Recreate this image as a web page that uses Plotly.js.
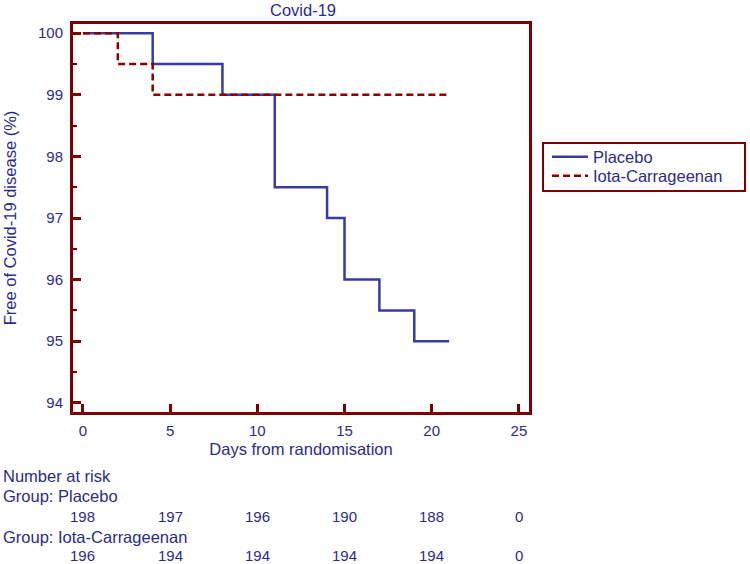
<!DOCTYPE html>
<html>
<head>
<meta charset="utf-8">
<script src="https://cdn.plot.ly/plotly-3.0.1.min.js"></script>
<style>html,body{margin:0;padding:0;background:#fff;}</style>
</head>
<body>
<div id="chart" style="width:750px;height:564px;"></div>
<script>
// Kaplan-Meier steps
const placeboDays = [0, 4, 8, 11, 14, 15, 17, 19, 21];
const placeboFree = [100, 99.5, 99, 97.5, 97, 96, 95.5, 95, 95];
const iotaDays = [0, 2, 4, 21];
const iotaFree = [100, 99.5, 99, 99];

// Number at risk table
const riskTimes = [0, 5, 10, 15, 20, 25];
const riskPlacebo = [198, 197, 196, 190, 188, 0];
const riskIota = [196, 194, 194, 194, 194, 0];
const groupNames = ['Placebo', 'Iota-Carrageenan'];

const textColor = '#2b2b8e';
const maroon = '#7d0000';
const blue = '#3a3aa4';
const fontFam = 'Liberation Sans, Arial, sans-serif';
const wordFont = {family: fontFam, size: 16.5, color: textColor};
const numFont = {family: fontFam, size: 15, color: textColor};

const plotH = 564 - 24 - 152;
const plotW = 456;
function py(pix) { return (564 - 152 - pix) / plotH; }
function px(pix) { return (pix - 73) / plotW; }

const traces = [
  {x: placeboDays, y: placeboFree, name: groupNames[0], type: 'scatter', mode: 'lines',
   legend: 'legend', line: {shape: 'hv', color: blue, width: 2.5}},
  {x: iotaDays, y: iotaFree, name: groupNames[1], type: 'scatter', mode: 'lines',
   legend: 'legend2', line: {shape: 'hv', color: '#8b0000', width: 2.5, dash: '7px,4px'}}
];

const annotations = [];
function addText(text, x, xref, y, xanchor, font) {
  annotations.push({text: text, x: x, xref: xref, y: y, yref: 'paper', xanchor: xanchor,
    yanchor: 'middle', showarrow: false, font: font});
}
addText('Number at risk', px(1), 'paper', py(476), 'left', wordFont);
addText('Group: ' + groupNames[0], px(1), 'paper', py(496), 'left', wordFont);
riskTimes.forEach((t, i) => addText(String(riskPlacebo[i]), t, 'x', py(516), 'center', numFont));
addText('Group: ' + groupNames[1], px(1), 'paper', py(537), 'left', wordFont);
riskTimes.forEach((t, i) => addText(String(riskIota[i]), t, 'x', py(555), 'center', numFont));

const layout = {
  width: 750, height: 564,
  margin: {l: 73, r: 221, t: 24, b: 152},
  paper_bgcolor: '#fff', plot_bgcolor: '#fff',
  font: {family: fontFam, size: 15, color: textColor},
  title: {text: 'Covid-19', x: px(303), xref: 'paper', xanchor: 'center',
          y: 1 - 10 / 564, yref: 'container', yanchor: 'middle', font: wordFont},
  xaxis: {
    range: [-0.57, 25.58], tickvals: riskTimes, ticks: 'inside', ticklen: 8, tickwidth: 3,
    tickcolor: maroon, showline: true, linecolor: maroon, linewidth: 3, mirror: true,
    showgrid: false, zeroline: false, ticklabelstandoff: 3, tickfont: numFont,
    title: {text: 'Days from randomisation', standoff: 6, font: wordFont}
  },
  yaxis: {
    range: [93.85, 100.15], tickvals: [94, 95, 96, 97, 98, 99, 100], ticks: 'inside', ticklen: 8,
    tickwidth: 3, tickcolor: maroon, showline: true, linecolor: maroon, linewidth: 3, mirror: true,
    showgrid: false, zeroline: false, ticklabelstandoff: 4,
    minor: {dtick: 0.5, tick0: 94, ticks: 'inside', ticklen: 4, tickwidth: 2, tickcolor: maroon, showgrid: false},
    tickfont: numFont,
    title: {text: 'Free of Covid-19 disease (%)', standoff: 18, font: wordFont}
  },
  showlegend: true,
  legend: {x: px(547), xanchor: 'left', y: py(157), yanchor: 'middle', itemwidth: 36,
           borderwidth: 0, bgcolor: 'rgba(0,0,0,0)', font: wordFont},
  legend2: {x: px(547), xanchor: 'left', y: py(176), yanchor: 'middle', itemwidth: 36,
           borderwidth: 0, bgcolor: 'rgba(0,0,0,0)', font: wordFont},
  shapes: [{type: 'rect', xref: 'paper', yref: 'paper', x0: px(543), x1: px(745),
            y0: py(191), y1: py(143), line: {color: maroon, width: 2}, fillcolor: 'rgba(0,0,0,0)'}],
  annotations: annotations
};

Plotly.newPlot('chart', traces, layout, {displayModeBar: false, staticPlot: true});
</script>
</body>
</html>
